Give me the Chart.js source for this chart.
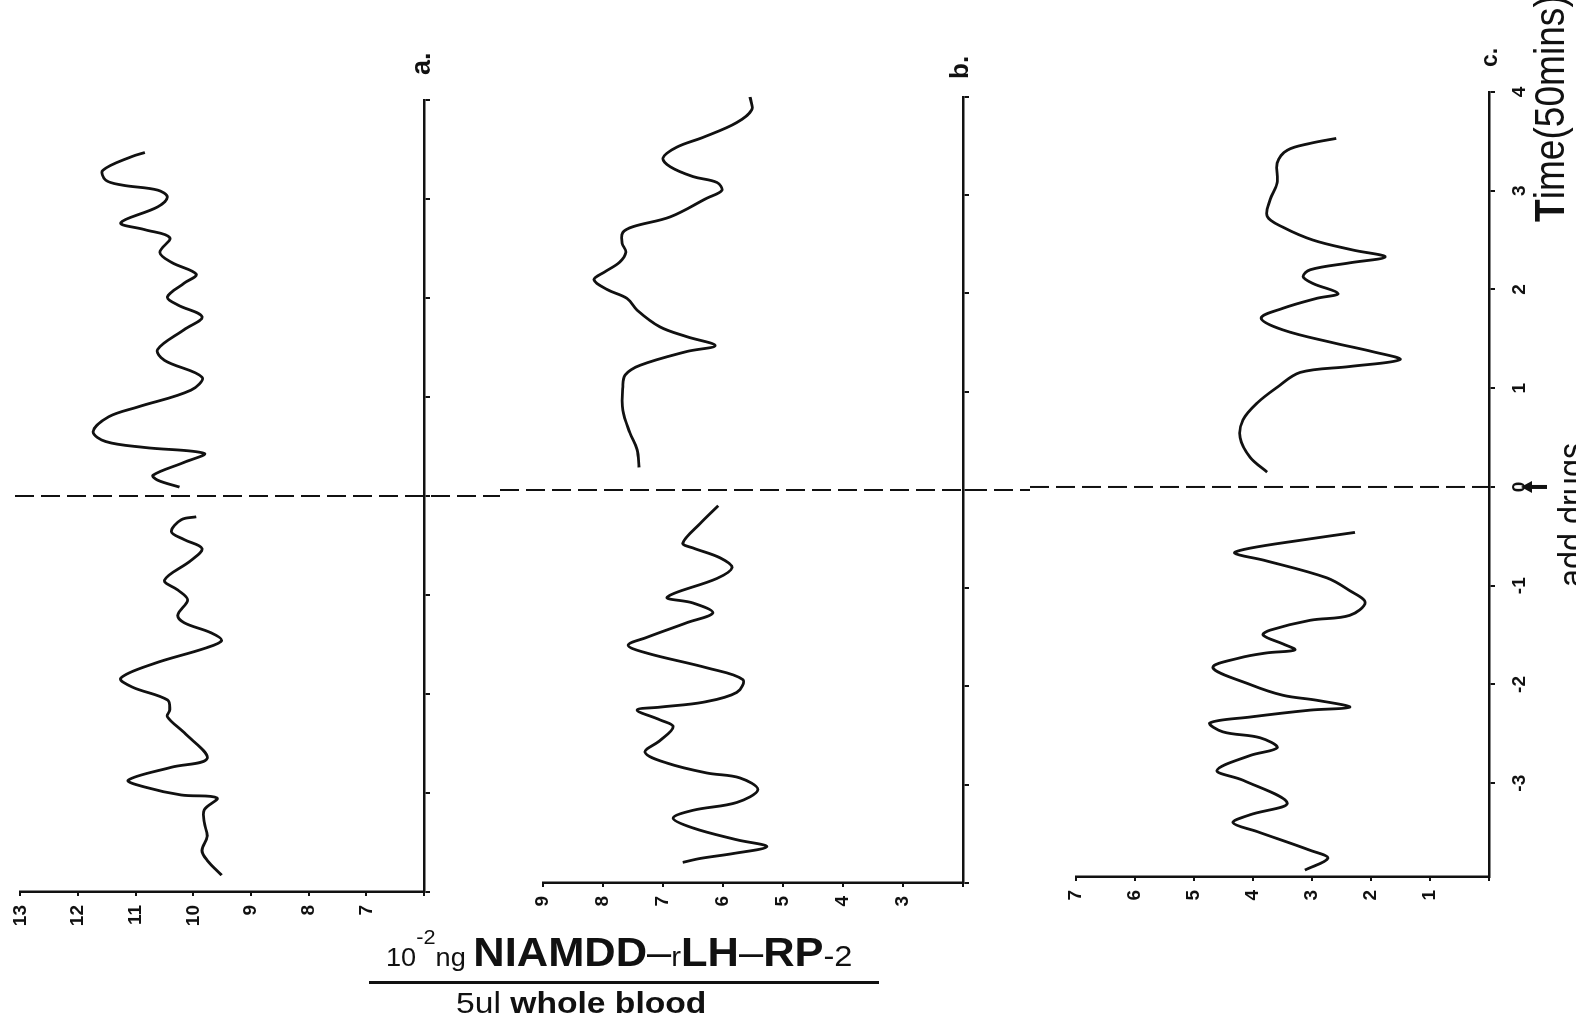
<!DOCTYPE html>
<html lang="en">
<head>
<meta charset="UTF-8">
<title>LH pulses</title>
<script src="https://cdn.jsdelivr.net/npm/chart.js"></script>
<style>
    body {
        margin: 0;
        width: 1576px;
        height: 1021px;
        overflow: hidden;
        background: #fff;
        font-family: "Liberation Sans", Arial, sans-serif;
        color: #111;
    }
    #rot {
        position: absolute;
        left: 0;
        top: 0;
        width: 1021px;
        height: 1576px;
        transform-origin: 0 0;
        transform: translate(0px, 1021px) rotate(-90deg);
    }
    .panel {
        position: absolute;
        left: 0;
        width: 1021px;
    }
    .txt {
        position: absolute;
        white-space: nowrap;
        line-height: 1;
        transform-origin: 0 50%;
    }
    #num, #den {
        position: absolute;
        white-space: nowrap;
        transform-origin: 0 50%;
    }
    #bar {
        position: absolute;
        left: 369px;
        top: 981px;
        width: 510px;
        height: 3px;
        background: #111;
    }
</style>
</head>
<body>
<!-- the figure was printed sideways: draw it upright, then turn the whole block -->
<div id="rot">
    <div class="panel" style="top:0;height:500px"><canvas id="ca"></canvas></div>
    <div class="panel" style="top:500px;height:530px"><canvas id="cb"></canvas></div>
    <div class="panel" style="top:1030px;height:546px"><canvas id="cc"></canvas></div>

    <div class="txt" id="la" data-u="946" data-base="431" data-size="27" style="font-weight:bold">a.</div>
    <div class="txt" id="lb" data-u="942" data-base="968" data-size="26" style="font-weight:bold">b.</div>
    <div class="txt" id="lc" data-u="954" data-base="1497" data-size="23" style="font-weight:bold">c.</div>
    <div class="txt" id="ltime" data-u="799" data-base="1565" data-size="42" data-w="227"><b>T</b>ime(50mins)</div>
    <div class="txt" id="ldrug" data-u="434" data-base="1584" data-size="36" data-w="144">add drugs</div>
</div>

<div id="num" style="left:386px;top:917px;font-size:40px;line-height:40px">
    <span style="font-size:25px">10</span><span style="font-size:20px;vertical-align:22px">-2</span><span style="font-size:25px">ng </span><b>NIAMDD</b><span>–</span><span style="font-size:27px">r</span><b>LH</b><span>–</span><b>RP</b><span style="font-size:30px">-2</span>
</div>
<div id="bar"></div>
<div id="den" style="left:456px;top:988px;font-size:30px;line-height:30px">
    5ul <b>whole blood</b>
</div>

<script>
    // time in units of 50 min (0 = drugs added), LH in 10^-2 ng / 5ul whole blood
    const timeTicks = [-4, -3, -2, -1, 0, 1, 2, 3, 4];

    // panel a
    const aRange = [6, 13];
    const aTime = [-4, 4];
    const aPreTime = [-3.83, -3.68, -3.58, -3.44, -3.30, -3.17, -3.05, -3.02, -2.94, -2.87, -2.74, -2.65, -2.39, -2.23, -2.16, -2.06, -1.93, -1.84, -1.69, -1.54, -1.46, -1.38, -1.28, -1.20, -1.05, -0.95, -0.85, -0.65, -0.53, -0.44, -0.36, -0.24, -0.21];
    const aPreLH = [9.51, 9.76, 9.85, 9.76, 9.81, 9.81, 9.59, 10.21, 10.84, 11.13, 10.38, 9.76, 10.16, 10.45, 10.41, 10.45, 11.06, 11.26, 10.67, 9.81, 9.51, 9.70, 10.16, 10.27, 10.10, 10.27, 10.50, 10.04, 9.85, 10.16, 10.38, 10.21, 9.95];
    const aPostTime = [0.09, 0.16, 0.21, 0.34, 0.43, 0.49, 0.55, 0.65, 0.80, 0.90, 1.07, 1.20, 1.37, 1.48, 1.68, 1.81, 1.93, 2.01, 2.15, 2.24, 2.36, 2.46, 2.61, 2.69, 2.76, 2.92, 3.02, 3.09, 3.14, 3.19, 3.29, 3.43, 3.47];
    const aPostLH = [10.24, 10.62, 10.70, 10.16, 9.81, 10.84, 11.52, 11.74, 11.47, 10.96, 10.04, 9.85, 10.50, 10.62, 10.16, 9.85, 10.27, 10.45, 10.16, 9.95, 10.38, 10.58, 10.41, 10.84, 11.26, 10.62, 10.45, 10.62, 11.23, 11.52, 11.57, 11.06, 10.84];

    // panel b
    const bRange = [2, 9];
    const bTime = [-4, 4];
    const bPreTime = [-3.79, -3.75, -3.70, -3.63, -3.56, -3.44, -3.34, -3.26, -3.18, -3.05, -2.93, -2.88, -2.78, -2.67, -2.55, -2.41, -2.34, -2.24, -2.21, -2.16, -2.06, -1.93, -1.81, -1.66, -1.58, -1.50, -1.35, -1.25, -1.15, -1.09, -0.90, -0.79, -0.69, -0.59, -0.54, -0.34, -0.16];
    const bPreLH = [6.67, 6.38, 5.83, 5.27, 5.77, 6.50, 6.83, 6.50, 5.77, 5.42, 5.72, 6.27, 6.93, 7.30, 7.05, 6.83, 7.05, 7.43, 7.05, 6.33, 5.77, 5.67, 6.27, 7.27, 7.58, 7.27, 6.60, 6.17, 6.50, 6.93, 6.10, 5.85, 6.05, 6.50, 6.67, 6.38, 6.08];
    const bPostTime = [0.23, 0.41, 0.58, 0.81, 1.05, 1.17, 1.27, 1.41, 1.47, 1.56, 1.66, 1.83, 1.95, 2.04, 2.14, 2.22, 2.32, 2.42, 2.51, 2.62, 2.68, 2.78, 2.97, 3.05, 3.13, 3.19, 3.29, 3.38, 3.49, 3.59, 3.74, 3.87, 4.00, 4.14, 4.25];
    const bPostLH = [7.40, 7.43, 7.55, 7.67, 7.67, 7.63, 7.38, 6.60, 6.13, 6.60, 7.05, 7.43, 7.60, 7.93, 8.15, 7.97, 7.72, 7.62, 7.68, 7.67, 7.50, 6.88, 6.27, 6.02, 6.10, 6.50, 6.88, 7.00, 6.77, 6.33, 5.77, 5.52, 5.55, 5.83, 6.30];

    // panel c (its time axis stops a little short of -4)
    const cRange = [0, 7];
    const cTime = [-3.95, 4];
    const cPreTime = [-3.88, -3.76, -3.68, -3.49, -3.40, -3.32, -3.20, -2.97, -2.87, -2.72, -2.64, -2.54, -2.48, -2.39, -2.33, -2.26, -2.23, -2.16, -2.11, -2.00, -1.83, -1.73, -1.68, -1.65, -1.59, -1.50, -1.45, -1.35, -1.30, -1.17, -1.05, -0.92, -0.74, -0.67, -0.62, -0.54, -0.46];
    const cPreLH = [3.12, 2.73, 3.03, 3.93, 4.34, 4.05, 3.42, 4.17, 4.61, 4.05, 3.59, 3.88, 4.51, 4.73, 4.05, 3.03, 2.36, 2.92, 3.49, 4.05, 4.68, 4.22, 3.76, 3.29, 3.49, 3.83, 3.71, 3.03, 2.36, 2.10, 2.36, 2.75, 3.83, 4.31, 4.05, 3.20, 2.27];
    const cPostTime = [0.15, 0.30, 0.50, 0.68, 0.85, 1.01, 1.16, 1.22, 1.29, 1.37, 1.46, 1.59, 1.71, 1.81, 1.91, 1.96, 2.06, 2.13, 2.20, 2.27, 2.33, 2.40, 2.50, 2.63, 2.74, 2.91, 3.08, 3.28, 3.41, 3.48, 3.53];
    const cPostLH = [3.76, 4.05, 4.22, 4.17, 3.93, 3.59, 3.20, 2.36, 1.51, 1.97, 2.64, 3.49, 3.86, 3.49, 2.92, 2.56, 2.98, 3.15, 3.03, 2.36, 1.76, 2.31, 2.98, 3.49, 3.76, 3.71, 3.59, 3.59, 3.42, 3.03, 2.59];

    const ink = "#111";

    function pts(times, vals) {
        return times.map((t, i) => ({ x: t, y: vals[i] }));
    }

    // dashed line at the moment the drugs go in, plus the arrow under panel c
    const zeroLine = {
        id: "zeroLine",
        afterDatasetsDraw(chart, args, opts) {
            const ctx = chart.ctx;
            const x = chart.scales.x.getPixelForValue(0);
            const y2 = opts.toArea ? chart.chartArea.bottom : chart.height;
            ctx.save();
            ctx.strokeStyle = ink;
            ctx.lineWidth = 2;
            ctx.setLineDash([19, 7]);
            ctx.beginPath();
            ctx.moveTo(x, opts.from || 0);
            ctx.lineTo(x, y2);
            ctx.stroke();
            if (opts.arrow) {
                const y0 = chart.chartArea.bottom;
                ctx.setLineDash([]);
                ctx.lineWidth = 4;
                ctx.beginPath();
                ctx.moveTo(x, y0 + 58);
                ctx.lineTo(x, y0 + 40);
                ctx.stroke();
                ctx.fillStyle = ink;
                ctx.beginPath();
                ctx.moveTo(x, y0 + 32);
                ctx.lineTo(x - 6, y0 + 43);
                ctx.lineTo(x + 6, y0 + 43);
                ctx.closePath();
                ctx.fill();
            }
            ctx.restore();
        }
    };

    function makePanel(id, p) {
        const tickFont = { family: "Liberation Sans", size: 19, weight: "bold" };
        return new Chart(document.getElementById(id), {
            type: "line",
            data: {
                datasets: [
                    { data: pts(p.preT, p.preV) },
                    { data: pts(p.postT, p.postV) }
                ]
            },
            options: {
                responsive: true,
                maintainAspectRatio: false,
                animation: false,
                events: [],
                layout: { padding: { left: 0, right: p.right, top: p.top, bottom: p.bottom } },
                elements: {
                    point: { radius: 0 },
                    line: { tension: 0.35, borderWidth: 2.8, borderColor: ink, fill: false }
                },
                datasets: { line: { clip: false } },
                plugins: {
                    legend: { display: false },
                    tooltip: { enabled: false },
                    zeroLine: p.zero
                },
                scales: {
                    x: {
                        type: "linear",
                        min: p.time[0],
                        max: p.time[1],
                        afterBuildTicks: s => {
                            s.ticks = timeTicks.filter(v => v >= p.time[0] && v <= p.time[1]).map(v => ({ value: v }));
                        },
                        ticks: {
                            autoSkip: false,
                            maxRotation: 0,
                            minRotation: 0,
                            padding: 13,
                            color: ink,
                            font: tickFont,
                            callback: v => (p.timeLabels && v !== timeTicks[0]) ? String(v) : ""
                        },
                        grid: { drawOnChartArea: false, tickLength: 6, color: ink, lineWidth: 2 },
                        border: { color: ink, width: 2.5 },
                        afterFit: s => { s.height = 40; }
                    },
                    y: {
                        type: "linear",
                        min: p.range[0],
                        max: p.range[1],
                        ticks: {
                            stepSize: 1,
                            padding: 9,
                            color: ink,
                            font: tickFont,
                            callback: v => v === p.range[0] ? "" : String(v)
                        },
                        grid: { drawOnChartArea: false, tickLength: 4, color: ink, lineWidth: 2 },
                        border: { color: ink, width: 2.5 },
                        afterFit: s => { s.width = p.left; }
                    }
                }
            },
            plugins: [zeroLine]
        });
    }

    makePanel("ca", {
        preT: aPreTime, preV: aPreLH, postT: aPostTime, postV: aPostLH, range: aRange, time: aTime,
        left: 129, right: 100, top: 13, bottom: 36, timeLabels: false,
        zero: { from: 15 }
    });
    makePanel("cb", {
        preT: bPreTime, preV: bPreLH, postT: bPostTime, postV: bPostLH, range: bRange, time: bTime,
        left: 138, right: 97, top: 43, bottom: 27, timeLabels: false,
        zero: { from: 0 }
    });
    makePanel("cc", {
        preT: cPreTime, preV: cPreLH, postT: cPostTime, postV: cPostLH, range: cRange, time: cTime,
        left: 144, right: 92, top: 46, bottom: 47, timeLabels: true,
        zero: { from: 0, toArea: true, arrow: true }
    });

    // place the sideways captions by their baseline and squeeze them to the measured width
    document.querySelectorAll(".txt").forEach(el => {
        const size = +el.dataset.size;
        el.style.fontSize = size + "px";
        el.style.left = el.dataset.u + "px";
        el.style.top = (+el.dataset.base - 0.847 * size) + "px";
        if (el.dataset.w) {
            el.style.transform = "scaleX(" + (+el.dataset.w / el.offsetWidth) + ")";
        }
    });

    function fitWidth(id, w) {
        const el = document.getElementById(id);
        el.style.transform = "scaleX(" + (w / el.offsetWidth) + ")";
    }
    fitWidth("num", 466);
    fitWidth("den", 250);
</script>
</body>
</html>
